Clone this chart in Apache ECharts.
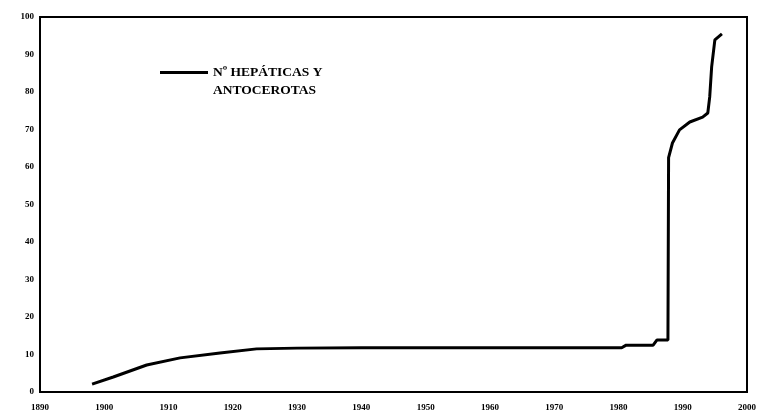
<!DOCTYPE html>
<html>
<head>
<meta charset="utf-8">
<script src="https://cdn.jsdelivr.net/npm/echarts@6/dist/echarts.min.js"></script>
<style>
html,body{margin:0;padding:0;background:#fff;}
#chart{width:763px;height:417px;}
</style>
</head>
<body>
<div id="chart"></div>
<script>
const seriesName = 'Nº HEPÁTICAS Y\nANTOCEROTAS';
const years = [1898.1, 1901.4, 1906.6, 1911.8, 1918.0, 1923.7, 1930, 1940, 1950, 1960, 1970, 1980.5, 1981.2, 1985.4, 1986.0, 1987.7, 1987.8, 1988.4, 1989.5, 1991.1, 1993.1, 1993.9, 1994.2, 1994.5, 1995.0, 1996.1];
const values = [2.1, 4.0, 7.2, 9.1, 10.4, 11.5, 11.7, 11.8, 11.8, 11.8, 11.8, 11.8, 12.5, 12.5, 13.9, 13.9, 62.5, 66.4, 69.9, 72.0, 73.3, 74.4, 78.7, 86.7, 93.9, 95.5];
const xMin = 1890, xMax = 2000, xStep = 10;
const yMin = 0, yMax = 100, yStep = 10;

const chart = echarts.init(document.getElementById('chart'), null, {renderer: 'canvas'});
const data = years.map((y, i) => [y, values[i]]);
const labelStyle = {color: '#000', fontFamily: 'Liberation Serif', fontWeight: 'bold', fontSize: 9};
chart.setOption({
  animation: false,
  backgroundColor: '#fff',
  grid: {left: 40, right: 16, top: 17, bottom: 25, show: true, borderColor: '#000', borderWidth: 2, containLabel: false},
  legend: {
    data: [seriesName],
    left: 155, top: 59,
    itemWidth: 48, itemHeight: 22,
    icon: 'path://M0,0H48V3H0Z M0,21.9H0.05V22H0Z',
    itemStyle: {color: '#000'},
    lineStyle: {width: 0},
    textStyle: {color: '#000', fontFamily: 'Liberation Serif', fontWeight: 'bold', fontSize: 13.5, lineHeight: 18}
  },
  xAxis: {
    type: 'value', min: xMin, max: xMax, interval: xStep,
    axisLine: {lineStyle: {color: '#000', width: 2}},
    axisTick: {show: false},
    splitLine: {show: false},
    axisLabel: Object.assign({margin: 11, formatter: v => String(v)}, labelStyle)
  },
  yAxis: {
    type: 'value', min: yMin, max: yMax, interval: yStep,
    axisLine: {show: true, lineStyle: {color: '#000', width: 2}},
    axisTick: {show: false},
    splitLine: {show: false},
    axisLabel: Object.assign({margin: 6}, labelStyle)
  },
  series: [{
    name: seriesName,
    type: 'line',
    data: data,
    showSymbol: false,
    symbol: 'none',
    lineStyle: {color: '#000', width: 3},
    itemStyle: {color: '#000'}
  }]
});
</script>
</body>
</html>
